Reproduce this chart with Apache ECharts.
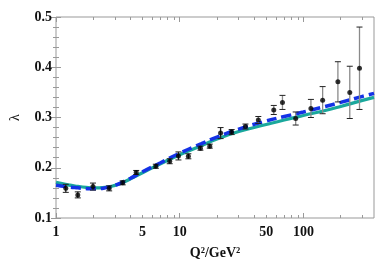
<!DOCTYPE html>
<html>
<head>
<meta charset="utf-8">
<script src="https://cdn.jsdelivr.net/npm/echarts@6/dist/echarts.min.js"></script>
<style>html,body{margin:0;padding:0;background:#fff}#c{width:375px;height:265px}</style>
</head>
<body>
<div id="c"></div>
<script>
// measured data points
var dataQ2 = [1.20, 1.50, 1.99, 2.69, 3.46, 4.45, 6.41, 8.3, 9.77, 11.75, 14.7, 17.5, 21.4, 26.3, 34, 43.2, 57.6, 67.7, 86.6, 115, 143, 190, 237, 284];
var dataLambda = [0.159, 0.146, 0.1625, 0.159, 0.170, 0.1906, 0.203, 0.213, 0.2235, 0.2228, 0.239, 0.243, 0.269, 0.271, 0.282, 0.295, 0.315, 0.330, 0.298, 0.318, 0.3345, 0.371, 0.350, 0.398];
var dataErr = [0.008, 0.006, 0.007, 0.005, 0.004, 0.004, 0.004, 0.005, 0.008, 0.005, 0.004, 0.004, 0.011, 0.005, 0.005, 0.007, 0.009, 0.014, 0.013, 0.018, 0.027, 0.040, 0.052, 0.082];
// theory curves
var curveQ2 = [1, 1.25, 1.5, 1.75, 2, 2.5, 3, 3.5, 4, 5, 7, 10, 15, 20, 30, 50, 70, 100, 150, 200, 300, 372];
var curveBlue = [0.165, 0.162, 0.160, 0.1585, 0.158, 0.160, 0.165, 0.172, 0.179, 0.192, 0.210, 0.229, 0.248, 0.261, 0.277, 0.293, 0.302, 0.311, 0.322, 0.330, 0.342, 0.348];
var curveTeal = [0.171, 0.166, 0.163, 0.161, 0.160, 0.161, 0.165, 0.171, 0.178, 0.190, 0.208, 0.226, 0.244, 0.257, 0.272, 0.286, 0.295, 0.304, 0.314, 0.322, 0.334, 0.340];
// axis ticks
var xLabelValues = [1, 5, 10, 50, 100];
var xMajorTicks = [1, 10, 100];
var xMinorTicks = [2, 3, 4, 5, 6, 7, 8, 9, 20, 30, 40, 50, 60, 70, 80, 90, 200, 300];
var xMax = 372;

var L = Math.log10;
var font = 'Liberation Serif';
function pts(xs, ys) { return xs.map(function (q, i) { return [L(q), ys[i]]; }); }

var axisCommon = function (pos, ticks, len, labels) {
  return {
    type: 'value', position: pos, min: 0, max: L(xMax),
    axisLine: { show: false },
    splitLine: { show: false },
    axisTick: { show: true, inside: true, length: len, customValues: ticks.map(L), lineStyle: { color: '#999', width: 1 } },
    axisLabel: labels ? {
      show: true, customValues: labels.map(L), color: '#111', fontFamily: font, fontWeight: 'bold', fontSize: 14, margin: 7,
      formatter: function (v) { return String(Math.round(Math.pow(10, v))); }
    } : { show: false }
  };
};

var xAxes = [
  axisCommon('bottom', xMajorTicks, 5, xLabelValues),
  axisCommon('bottom', xMinorTicks, 3, null),
  axisCommon('top', xMajorTicks, 5, null),
  axisCommon('top', xMinorTicks, 3, null)
];
xAxes[0].name = 'Q\u00B2/GeV\u00B2';
xAxes[0].nameLocation = 'middle';
xAxes[0].nameGap = 28;
xAxes[0].nameTextStyle = { color: '#111', fontFamily: font, fontWeight: 'bold', fontSize: 14 };

var yAxisCommon = function (pos, labels) {
  return {
    type: 'value', position: pos, min: 0.1, max: 0.5, interval: 0.1,
    axisLine: { show: false }, splitLine: { show: false },
    axisTick: { show: true, inside: true, length: 5, lineStyle: { color: '#999' } },
    minorTick: { show: true, splitNumber: 5, length: 3, lineStyle: { color: '#999' } },
    axisLabel: labels ? { show: true, color: '#111', fontFamily: font, fontWeight: 'bold', fontSize: 14, margin: 4,
      formatter: function (v) { return v.toFixed(1); } } : { show: false }
  };
};
var yAxes = [yAxisCommon('left', true), yAxisCommon('right', false)];
yAxes[0].name = '\u03BB';
yAxes[0].nameLocation = 'middle';
yAxes[0].nameRotate = 90;
yAxes[0].nameGap = 34;
yAxes[0].nameTextStyle = { color: '#111', fontFamily: font, fontSize: 14 };

var errData = dataQ2.map(function (q, i) { return [L(q), dataLambda[i] - dataErr[i], dataLambda[i] + dataErr[i], i]; });

var chart = echarts.init(document.getElementById('c'), null, { renderer: 'canvas' });
chart.setOption({
  animation: false,
  grid: { left: 45, right: 1, top: 17, bottom: 45, show: true, borderColor: '#999', borderWidth: 1, backgroundColor: 'transparent' },
  xAxis: xAxes,
  yAxis: yAxes,
  series: [
    {
      type: 'line', data: pts(curveQ2, curveTeal), smooth: true, symbol: 'none',
      lineStyle: { color: '#1aa89c', width: 3.2 }, z: 2
    },
    {
      type: 'line', data: pts(curveQ2, curveBlue), smooth: true, symbol: 'none',
      lineStyle: { color: '#1432e6', width: 3.5, type: [10, 5] }, z: 3
    },
    {
      type: 'custom', data: errData, z: 4,
      renderItem: function (params, api) {
        var lo = api.coord([api.value(0), api.value(1)]);
        var hi = api.coord([api.value(0), api.value(2)]);
        var idx = api.value(3);
        var col = idx >= 14 ? '#8a8a8a' : '#222';
        var capCol = '#222';
        var w = 3;
        return {
          type: 'group', children: [
            { type: 'line', shape: { x1: lo[0], y1: lo[1], x2: hi[0], y2: hi[1] }, style: { stroke: col, lineWidth: 1.3 } },
            { type: 'line', shape: { x1: lo[0] - w, y1: lo[1], x2: lo[0] + w, y2: lo[1] }, style: { stroke: capCol, lineWidth: 1 } },
            { type: 'line', shape: { x1: hi[0] - w, y1: hi[1], x2: hi[0] + w, y2: hi[1] }, style: { stroke: capCol, lineWidth: 1 } }
          ]
        };
      }
    },
    {
      type: 'scatter', data: pts(dataQ2, dataLambda), symbol: 'circle', symbolSize: 5,
      itemStyle: { color: '#000' }, z: 5
    }
  ]
});
</script>
</body>
</html>
